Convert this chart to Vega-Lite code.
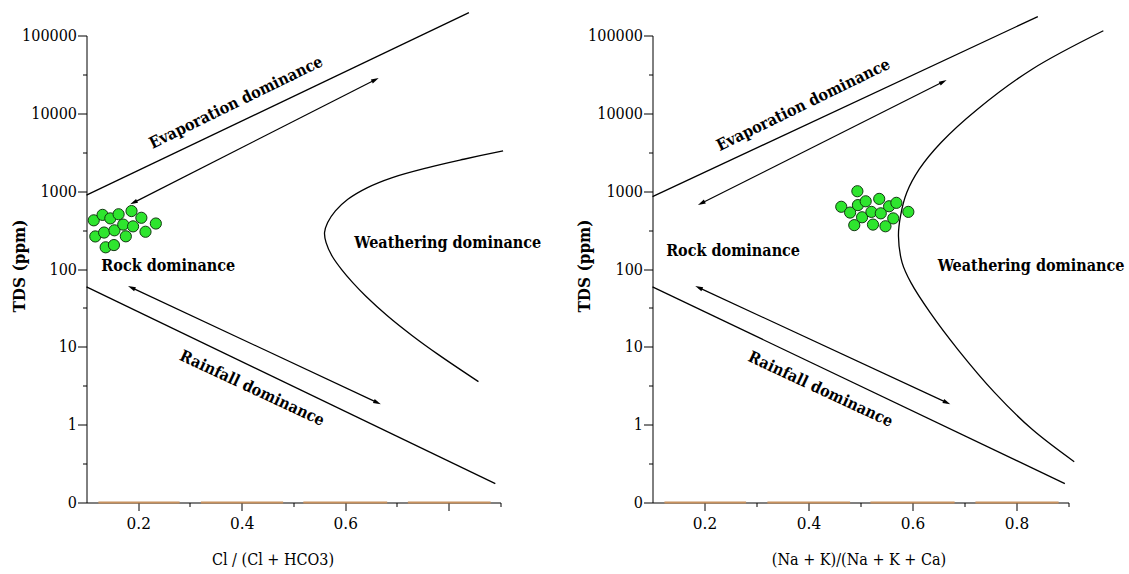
{
  "$schema": "https://vega.github.io/schema/vega-lite/v6.json",
  "background": "white",
  "padding": {"left": 10.5, "top": 9.5, "right": 0, "bottom": 0},
  "spacing": 152,
  "bounds": "flush",
  "config": {
    "view": {"stroke": null},
    "font": "DejaVu Serif Condensed, DejaVu Serif",
    "axis": {"domainColor": "black", "tickColor": "black", "labelColor": "black", "titleColor": "black", "grid": false, "labelFont": "DejaVu Serif Condensed, DejaVu Serif", "titleFont": "DejaVu Serif Condensed, DejaVu Serif", "domainWidth": 1, "tickWidth": 1, "labelFlush": false, "labelOverlap": false}
  },
  "datasets": {
    "linesL": [
      {"line": "evap", "i": 0, "x": 0.1, "tds": 889},
      {"line": "evap", "i": 1, "x": 0.839, "tds": 197000},
      {"line": "rain", "i": 0, "x": 0.1, "tds": 58.9},
      {"line": "rain", "i": 1, "x": 0.89, "tds": 0.1745},
      {"line": "weath", "i": 0, "x": 0.905, "tds": 3296},
      {"line": "weath", "i": 1, "x": 0.829, "tds": 2570},
      {"line": "weath", "i": 2, "x": 0.76, "tds": 2010},
      {"line": "weath", "i": 3, "x": 0.691, "tds": 1496},
      {"line": "weath", "i": 4, "x": 0.643, "tds": 1112},
      {"line": "weath", "i": 5, "x": 0.605, "tds": 787},
      {"line": "weath", "i": 6, "x": 0.581, "tds": 558},
      {"line": "weath", "i": 7, "x": 0.566, "tds": 395},
      {"line": "weath", "i": 8, "x": 0.56, "tds": 294},
      {"line": "weath", "i": 9, "x": 0.563, "tds": 218},
      {"line": "weath", "i": 10, "x": 0.5745, "tds": 147},
      {"line": "weath", "i": 11, "x": 0.5927, "tds": 99},
      {"line": "weath", "i": 12, "x": 0.6145, "tds": 66.8},
      {"line": "weath", "i": 13, "x": 0.6394, "tds": 45},
      {"line": "weath", "i": 14, "x": 0.6819, "tds": 24.9},
      {"line": "weath", "i": 15, "x": 0.7302, "tds": 13.8},
      {"line": "weath", "i": 16, "x": 0.7793, "tds": 8.0},
      {"line": "weath", "i": 17, "x": 0.8574, "tds": 3.57}
    ],
    "linesR": [
      {"line": "evap", "i": 0, "x": 0.1, "tds": 850},
      {"line": "evap", "i": 1, "x": 0.841, "tds": 175000},
      {"line": "rain", "i": 0, "x": 0.1, "tds": 58.9},
      {"line": "rain", "i": 1, "x": 0.893, "tds": 0.175},
      {"line": "weath", "i": 0, "x": 0.967, "tds": 115000},
      {"line": "weath", "i": 1, "x": 0.83, "tds": 36900},
      {"line": "weath", "i": 2, "x": 0.725, "tds": 11300},
      {"line": "weath", "i": 3, "x": 0.655, "tds": 4220},
      {"line": "weath", "i": 4, "x": 0.613, "tds": 1915},
      {"line": "weath", "i": 5, "x": 0.589, "tds": 960},
      {"line": "weath", "i": 6, "x": 0.577, "tds": 482},
      {"line": "weath", "i": 7, "x": 0.573, "tds": 266},
      {"line": "weath", "i": 8, "x": 0.58, "tds": 121},
      {"line": "weath", "i": 9, "x": 0.597, "tds": 66.8},
      {"line": "weath", "i": 10, "x": 0.634, "tds": 27.5},
      {"line": "weath", "i": 11, "x": 0.687, "tds": 9.3},
      {"line": "weath", "i": 12, "x": 0.758, "tds": 2.58},
      {"line": "weath", "i": 13, "x": 0.83, "tds": 0.871},
      {"line": "weath", "i": 14, "x": 0.911, "tds": 0.334}
    ],
    "arrowsL": [
      {"arrow": "up", "end": "a", "x": 0.191, "tds": 713},
      {"arrow": "up", "end": "b", "x": 0.658, "tds": 27000},
      {"arrow": "down", "end": "a", "x": 0.187, "tds": 57.7},
      {"arrow": "down", "end": "b", "x": 0.662, "tds": 1.92}
    ],
    "arrowsR": [
      {"arrow": "up", "end": "a", "x": 0.194, "tds": 699},
      {"arrow": "up", "end": "b", "x": 0.659, "tds": 25400},
      {"arrow": "down", "end": "a", "x": 0.189, "tds": 57.7},
      {"arrow": "down", "end": "b", "x": 0.666, "tds": 1.92}
    ],
    "samplesL": [
      {"x": 0.114, "tds": 422}, {"x": 0.131, "tds": 496}, {"x": 0.146, "tds": 447}, {"x": 0.162, "tds": 505},
      {"x": 0.187, "tds": 555}, {"x": 0.206, "tds": 455}, {"x": 0.234, "tds": 384}, {"x": 0.117, "tds": 262},
      {"x": 0.134, "tds": 294}, {"x": 0.154, "tds": 314}, {"x": 0.171, "tds": 372}, {"x": 0.19, "tds": 353},
      {"x": 0.176, "tds": 263}, {"x": 0.214, "tds": 301}, {"x": 0.137, "tds": 190}, {"x": 0.153, "tds": 203}
    ],
    "samplesR": [
      {"x": 0.463, "tds": 630}, {"x": 0.48, "tds": 531}, {"x": 0.494, "tds": 998}, {"x": 0.495, "tds": 662},
      {"x": 0.51, "tds": 741}, {"x": 0.503, "tds": 462}, {"x": 0.521, "tds": 542}, {"x": 0.488, "tds": 366},
      {"x": 0.524, "tds": 372}, {"x": 0.536, "tds": 796}, {"x": 0.539, "tds": 519}, {"x": 0.555, "tds": 640},
      {"x": 0.569, "tds": 708}, {"x": 0.563, "tds": 447}, {"x": 0.548, "tds": 354}, {"x": 0.592, "tds": 542}
    ],
    "labelsL": [
      {"label": "Evaporation dominance", "x": 0.389, "tds": 13770},
      {"label": "Rock dominance", "x": 0.258, "tds": 110.7},
      {"label": "Weathering dominance", "x": 0.798, "tds": 218},
      {"label": "Rainfall dominance", "x": 0.42, "tds": 2.93}
    ],
    "labelsR": [
      {"label": "Evaporation dominance", "x": 0.39, "tds": 12800},
      {"label": "Rock dominance", "x": 0.255, "tds": 171},
      {"label": "Weathering dominance", "x": 0.828, "tds": 109.6},
      {"label": "Rainfall dominance", "x": 0.423, "tds": 2.85}
    ],
    "segs": [
      {"x": 0.123, "x2": 0.28}, {"x": 0.321, "x2": 0.48}, {"x": 0.519, "x2": 0.681}, {"x": 0.721, "x2": 0.881}
    ]
  },
  "hconcat": [
    {
      "width": 414,
      "height": 467,
      "layer": [
        {
          "data": {"name": "segs"},
          "mark": {"type": "rule", "color": "#c8925f", "strokeWidth": 2},
          "encoding": {
            "x": {"field": "x", "type": "quantitative",
              "scale": {"domain": [0.1, 0.9], "nice": false, "zero": false},
              "axis": {"title": "Cl / (Cl + HCO3)", "titleFontSize": 16, "titleFontWeight": "normal", "titleX": 186, "titleY": 57, "titleBaseline": "middle", "titleAlign": "center",
                "values": [0.2, 0.3, 0.4, 0.5, 0.6, 0.7, 0.8, 0.9],
                "labelExpr": "indexof([0.2, 0.4, 0.6], datum.value) >= 0 ? format(datum.value, '.1f') : ''",
                "tickSize": {"condition": {"test": "indexof([0.2, 0.4, 0.6, 0.8], datum.value) >= 0", "value": 8}, "value": 4},
                "labelFontSize": 17, "labelPadding": 5}},
            "x2": {"field": "x2"},
            "y": {"datum": 0.1, "type": "quantitative",
              "scale": {"type": "log", "domain": [0.1, 100000], "nice": false},
              "axis": {"title": "TDS (ppm)", "titleFontSize": 17, "titleFontWeight": "bold", "titleX": -67, "titleY": 230, "titleAngle": 270, "titleBaseline": "middle", "titleAlign": "center",
                "values": [0.1, 0.316228, 1, 3.16228, 10, 31.6228, 100, 316.228, 1000, 3162.28, 10000, 31622.8, 100000],
                "labelExpr": "datum.value < 0.2 ? '0' : (indexof([1, 10, 100, 1000, 10000, 100000], datum.value) >= 0 ? format(datum.value, 'd') : '')",
                "tickSize": {"condition": {"test": "indexof([0.1, 1, 10, 100, 1000, 10000, 100000], datum.value) >= 0", "value": 9}, "value": 4},
                "labelFontSize": 16, "labelPadding": 1}}
          }
        },
        {
          "data": {"name": "linesL"},
          "mark": {"type": "line", "color": "black", "strokeWidth": 1.3, "interpolate": "catmull-rom"},
          "encoding": {
            "x": {"field": "x", "type": "quantitative"},
            "y": {"field": "tds", "type": "quantitative"},
            "detail": {"field": "line"},
            "order": {"field": "i", "type": "quantitative"}
          }
        },
        {
          "data": {"name": "arrowsL"},
          "mark": {"type": "line", "color": "black", "strokeWidth": 1.2},
          "encoding": {"x": {"field": "x", "type": "quantitative"}, "y": {"field": "tds", "type": "quantitative"}, "detail": {"field": "arrow"}}
        },
        {
          "data": {"name": "arrowsL"},
          "transform": [{"filter": "datum.arrow == 'up' && datum.end == 'a'"}],
          "mark": {"type": "point", "shape": "M0,-1L0.55,1L-0.55,1Z", "filled": true, "color": "black", "size": 60, "angle": 243, "opacity": 1, "strokeWidth": 0},
          "encoding": {"x": {"field": "x", "type": "quantitative"}, "y": {"field": "tds", "type": "quantitative"}}
        },
        {
          "data": {"name": "arrowsL"},
          "transform": [{"filter": "datum.arrow == 'up' && datum.end == 'b'"}],
          "mark": {"type": "point", "shape": "M0,-1L0.55,1L-0.55,1Z", "filled": true, "color": "black", "size": 60, "angle": 63, "opacity": 1, "strokeWidth": 0},
          "encoding": {"x": {"field": "x", "type": "quantitative"}, "y": {"field": "tds", "type": "quantitative"}}
        },
        {
          "data": {"name": "arrowsL"},
          "transform": [{"filter": "datum.arrow == 'down' && datum.end == 'a'"}],
          "mark": {"type": "point", "shape": "M0,-1L0.55,1L-0.55,1Z", "filled": true, "color": "black", "size": 60, "angle": 295, "opacity": 1, "strokeWidth": 0},
          "encoding": {"x": {"field": "x", "type": "quantitative"}, "y": {"field": "tds", "type": "quantitative"}}
        },
        {
          "data": {"name": "arrowsL"},
          "transform": [{"filter": "datum.arrow == 'down' && datum.end == 'b'"}],
          "mark": {"type": "point", "shape": "M0,-1L0.55,1L-0.55,1Z", "filled": true, "color": "black", "size": 60, "angle": 115, "opacity": 1, "strokeWidth": 0},
          "encoding": {"x": {"field": "x", "type": "quantitative"}, "y": {"field": "tds", "type": "quantitative"}}
        },
        {
          "data": {"name": "samplesL"},
          "mark": {"type": "point", "shape": "circle", "filled": true, "fill": "#2ee52e", "stroke": "#113811", "strokeWidth": 1, "size": 125, "opacity": 1},
          "encoding": {"x": {"field": "x", "type": "quantitative"}, "y": {"field": "tds", "type": "quantitative"}}
        },
        {
          "data": {"name": "labelsL"},
          "transform": [{"filter": "datum.label == 'Rock dominance' || datum.label == 'Weathering dominance'"}],
          "mark": {"type": "text", "font": "DejaVu Serif Condensed, DejaVu Serif", "fontWeight": "bold", "fontSize": 16, "color": "black", "align": "center", "baseline": "middle"},
          "encoding": {"x": {"field": "x", "type": "quantitative"}, "y": {"field": "tds", "type": "quantitative"}, "text": {"field": "label"}}
        },
        {
          "data": {"name": "labelsL"},
          "transform": [{"filter": "datum.label == 'Evaporation dominance'"}],
          "mark": {"type": "text", "font": "DejaVu Serif Condensed, DejaVu Serif", "fontWeight": "bold", "fontSize": 16, "color": "black", "align": "center", "baseline": "middle", "angle": 334},
          "encoding": {"x": {"field": "x", "type": "quantitative"}, "y": {"field": "tds", "type": "quantitative"}, "text": {"field": "label"}}
        },
        {
          "data": {"name": "labelsL"},
          "transform": [{"filter": "datum.label == 'Rainfall dominance'"}],
          "mark": {"type": "text", "font": "DejaVu Serif Condensed, DejaVu Serif", "fontWeight": "bold", "fontSize": 16, "color": "black", "align": "center", "baseline": "middle", "angle": 25},
          "encoding": {"x": {"field": "x", "type": "quantitative"}, "y": {"field": "tds", "type": "quantitative"}, "text": {"field": "label"}}
        }
      ]
    },
    {
      "width": 416,
      "height": 467,
      "layer": [
        {
          "data": {"name": "segs"},
          "mark": {"type": "rule", "color": "#c8925f", "strokeWidth": 2},
          "encoding": {
            "x": {"field": "x", "type": "quantitative",
              "scale": {"domain": [0.1, 0.9], "nice": false, "zero": false},
              "axis": {"title": "(Na + K)/(Na + K + Ca)", "titleFontSize": 16, "titleFontWeight": "normal", "titleX": 206, "titleY": 57, "titleBaseline": "middle", "titleAlign": "center",
                "values": [0.2, 0.3, 0.4, 0.5, 0.6, 0.7, 0.8, 0.9],
                "labelExpr": "indexof([0.2, 0.4, 0.6, 0.8], datum.value) >= 0 ? format(datum.value, '.1f') : ''",
                "tickSize": {"condition": {"test": "indexof([0.2, 0.4, 0.6, 0.8], datum.value) >= 0", "value": 8}, "value": 4},
                "labelFontSize": 17, "labelPadding": 5}},
            "x2": {"field": "x2"},
            "y": {"datum": 0.1, "type": "quantitative",
              "scale": {"type": "log", "domain": [0.1, 100000], "nice": false},
              "axis": {"title": "TDS (ppm)", "titleFontSize": 17, "titleFontWeight": "bold", "titleX": -68, "titleY": 230, "titleAngle": 270, "titleBaseline": "middle", "titleAlign": "center",
                "values": [0.1, 0.316228, 1, 3.16228, 10, 31.6228, 100, 316.228, 1000, 3162.28, 10000, 31622.8, 100000],
                "labelExpr": "datum.value < 0.2 ? '0' : (indexof([1, 10, 100, 1000, 10000, 100000], datum.value) >= 0 ? format(datum.value, 'd') : '')",
                "tickSize": {"condition": {"test": "indexof([0.1, 1, 10, 100, 1000, 10000, 100000], datum.value) >= 0", "value": 9}, "value": 4},
                "labelFontSize": 16, "labelPadding": 1}}
          }
        },
        {
          "data": {"name": "linesR"},
          "mark": {"type": "line", "color": "black", "strokeWidth": 1.3, "interpolate": "catmull-rom"},
          "encoding": {
            "x": {"field": "x", "type": "quantitative"},
            "y": {"field": "tds", "type": "quantitative"},
            "detail": {"field": "line"},
            "order": {"field": "i", "type": "quantitative"}
          }
        },
        {
          "data": {"name": "arrowsR"},
          "mark": {"type": "line", "color": "black", "strokeWidth": 1.2},
          "encoding": {"x": {"field": "x", "type": "quantitative"}, "y": {"field": "tds", "type": "quantitative"}, "detail": {"field": "arrow"}}
        },
        {
          "data": {"name": "arrowsR"},
          "transform": [{"filter": "datum.arrow == 'up' && datum.end == 'a'"}],
          "mark": {"type": "point", "shape": "M0,-1L0.55,1L-0.55,1Z", "filled": true, "color": "black", "size": 60, "angle": 243, "opacity": 1, "strokeWidth": 0},
          "encoding": {"x": {"field": "x", "type": "quantitative"}, "y": {"field": "tds", "type": "quantitative"}}
        },
        {
          "data": {"name": "arrowsR"},
          "transform": [{"filter": "datum.arrow == 'up' && datum.end == 'b'"}],
          "mark": {"type": "point", "shape": "M0,-1L0.55,1L-0.55,1Z", "filled": true, "color": "black", "size": 60, "angle": 63, "opacity": 1, "strokeWidth": 0},
          "encoding": {"x": {"field": "x", "type": "quantitative"}, "y": {"field": "tds", "type": "quantitative"}}
        },
        {
          "data": {"name": "arrowsR"},
          "transform": [{"filter": "datum.arrow == 'down' && datum.end == 'a'"}],
          "mark": {"type": "point", "shape": "M0,-1L0.55,1L-0.55,1Z", "filled": true, "color": "black", "size": 60, "angle": 295, "opacity": 1, "strokeWidth": 0},
          "encoding": {"x": {"field": "x", "type": "quantitative"}, "y": {"field": "tds", "type": "quantitative"}}
        },
        {
          "data": {"name": "arrowsR"},
          "transform": [{"filter": "datum.arrow == 'down' && datum.end == 'b'"}],
          "mark": {"type": "point", "shape": "M0,-1L0.55,1L-0.55,1Z", "filled": true, "color": "black", "size": 60, "angle": 115, "opacity": 1, "strokeWidth": 0},
          "encoding": {"x": {"field": "x", "type": "quantitative"}, "y": {"field": "tds", "type": "quantitative"}}
        },
        {
          "data": {"name": "samplesR"},
          "mark": {"type": "point", "shape": "circle", "filled": true, "fill": "#2ee52e", "stroke": "#113811", "strokeWidth": 1, "size": 125, "opacity": 1},
          "encoding": {"x": {"field": "x", "type": "quantitative"}, "y": {"field": "tds", "type": "quantitative"}}
        },
        {
          "data": {"name": "labelsR"},
          "transform": [{"filter": "datum.label == 'Rock dominance' || datum.label == 'Weathering dominance'"}],
          "mark": {"type": "text", "font": "DejaVu Serif Condensed, DejaVu Serif", "fontWeight": "bold", "fontSize": 16, "color": "black", "align": "center", "baseline": "middle"},
          "encoding": {"x": {"field": "x", "type": "quantitative"}, "y": {"field": "tds", "type": "quantitative"}, "text": {"field": "label"}}
        },
        {
          "data": {"name": "labelsR"},
          "transform": [{"filter": "datum.label == 'Evaporation dominance'"}],
          "mark": {"type": "text", "font": "DejaVu Serif Condensed, DejaVu Serif", "fontWeight": "bold", "fontSize": 16, "color": "black", "align": "center", "baseline": "middle", "angle": 334},
          "encoding": {"x": {"field": "x", "type": "quantitative"}, "y": {"field": "tds", "type": "quantitative"}, "text": {"field": "label"}}
        },
        {
          "data": {"name": "labelsR"},
          "transform": [{"filter": "datum.label == 'Rainfall dominance'"}],
          "mark": {"type": "text", "font": "DejaVu Serif Condensed, DejaVu Serif", "fontWeight": "bold", "fontSize": 16, "color": "black", "align": "center", "baseline": "middle", "angle": 25},
          "encoding": {"x": {"field": "x", "type": "quantitative"}, "y": {"field": "tds", "type": "quantitative"}, "text": {"field": "label"}}
        }
      ]
    }
  ]
}
